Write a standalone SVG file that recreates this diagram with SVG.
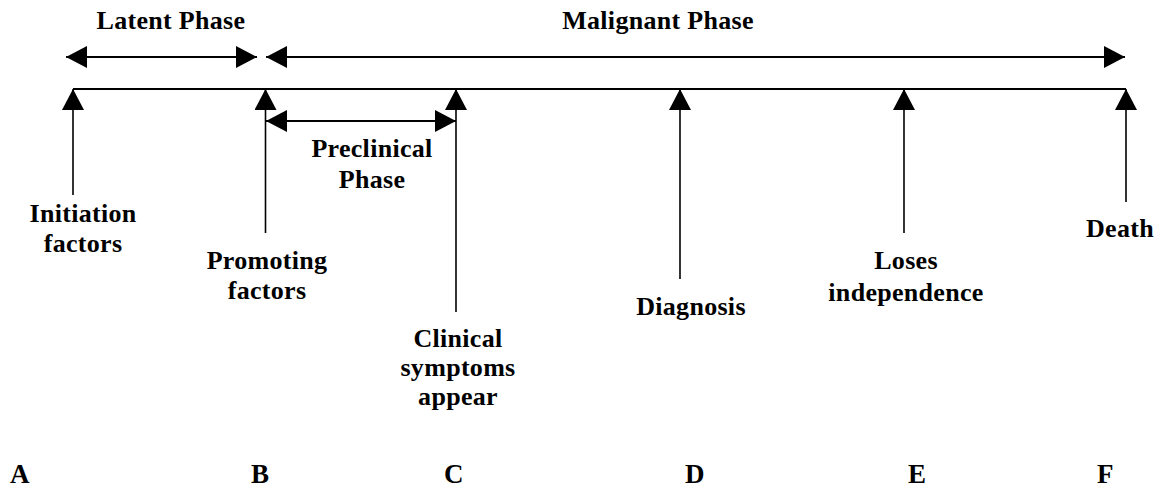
<svg xmlns="http://www.w3.org/2000/svg" width="1165" height="489" viewBox="0 0 1165 489">
  <style>
    text { font-family: "Liberation Serif", "Times New Roman", serif; font-weight: bold; font-size: 26px; fill: #000; letter-spacing: 0.3px; text-anchor: middle; }
    .ln { stroke: #000; stroke-width: 2; fill: none; }
    .vl { stroke: #000; stroke-width: 1.6; fill: none; }
    .letter { text-anchor: start; letter-spacing: 0; font-size: 27px; }
  </style>
  <defs>
    <marker id="ah" markerUnits="userSpaceOnUse" markerWidth="22" markerHeight="22" viewBox="0 0 21 22" refX="21" refY="11" orient="auto-start-reverse">
      <path d="M0,0 L21,11 L0,22 z" fill="#000"/>
    </marker>
  </defs>

  <g id="connectors">
    <line id="latent-arrow" class="ln" x1="66" y1="57" x2="257" y2="57" marker-start="url(#ah)" marker-end="url(#ah)"/>
    <line id="malignant-arrow" class="ln" x1="266" y1="57" x2="1125" y2="57" marker-start="url(#ah)" marker-end="url(#ah)"/>
    <line id="timeline" class="ln" x1="73" y1="89" x2="1126" y2="89"/>
    <line id="preclinical-arrow" class="ln" x1="266" y1="121" x2="456" y2="121" marker-start="url(#ah)" marker-end="url(#ah)"/>
    <line class="vl" x1="73" y1="195" x2="73" y2="89" marker-end="url(#ah)"/>
    <line class="vl" x1="265.5" y1="233" x2="265.5" y2="89" marker-end="url(#ah)"/>
    <line class="vl" x1="456" y1="312" x2="456" y2="89" marker-end="url(#ah)"/>
    <line class="vl" x1="680" y1="279" x2="680" y2="89" marker-end="url(#ah)"/>
    <line class="vl" x1="904" y1="233" x2="904" y2="89" marker-end="url(#ah)"/>
    <line class="vl" x1="1126" y1="202" x2="1126" y2="89" marker-end="url(#ah)"/>
  </g>

  <g id="latent-phase"><text x="171" y="29">Latent Phase</text></g>
  <g id="malignant-phase"><text x="658" y="29">Malignant Phase</text></g>
  <g id="preclinical-phase">
    <text x="372" y="157">Preclinical</text>
    <text x="372" y="188">Phase</text>
  </g>
  <g id="initiation">
    <text x="83" y="222">Initiation</text>
    <text x="83" y="252">factors</text>
  </g>
  <g id="promoting">
    <text x="267" y="269">Promoting</text>
    <text x="267" y="299">factors</text>
  </g>
  <g id="clinical">
    <text x="458" y="347">Clinical</text>
    <text x="458" y="376">symptoms</text>
    <text x="458" y="405">appear</text>
  </g>
  <g id="diagnosis"><text x="691" y="315">Diagnosis</text></g>
  <g id="loses">
    <text x="906" y="269">Loses</text>
    <text x="906" y="301">independence</text>
  </g>
  <g id="death"><text x="1120" y="237">Death</text></g>

  <g id="labels">
    <text class="letter" x="10" y="483">A</text>
    <text class="letter" x="251" y="483">B</text>
    <text class="letter" x="444" y="483">C</text>
    <text class="letter" x="685" y="483">D</text>
    <text class="letter" x="908" y="483">E</text>
    <text class="letter" x="1097" y="483">F</text>
  </g>
</svg>
